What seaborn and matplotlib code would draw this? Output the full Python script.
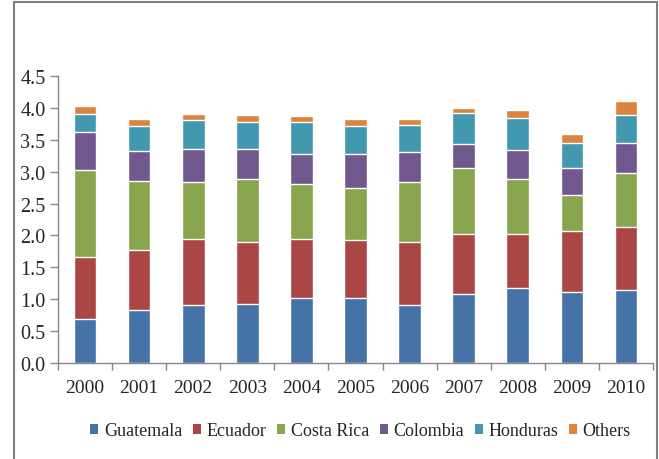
import numpy as np
import matplotlib
matplotlib.use("Agg")
import matplotlib.pyplot as plt
import seaborn as sns
from matplotlib.patches import Rectangle, Patch
from matplotlib.ticker import FormatStrFormatter, FixedLocator

years = ["2000", "2001", "2002", "2003", "2004", "2005", "2006", "2007", "2008", "2009", "2010"]
countries = ["Guatemala", "Ecuador", "Costa Rica", "Colombia", "Honduras", "Others"]

# values (segment heights)
guatemala = [0.69, 0.83, 0.92, 0.93, 1.02, 1.02, 0.91, 1.09, 1.18, 1.12, 1.15]
ecuador = [0.97, 0.95, 1.02, 0.97, 0.92, 0.91, 0.99, 0.93, 0.84, 0.95, 0.98]
costa_rica = [1.36, 1.08, 0.90, 0.98, 0.86, 0.82, 0.93, 1.03, 0.87, 0.56, 0.85]
colombia = [0.60, 0.46, 0.51, 0.47, 0.47, 0.52, 0.47, 0.38, 0.45, 0.42, 0.46]
honduras = [0.28, 0.39, 0.45, 0.43, 0.51, 0.44, 0.43, 0.48, 0.50, 0.39, 0.44]
others = [0.12, 0.12, 0.10, 0.10, 0.09, 0.11, 0.10, 0.09, 0.12, 0.15, 0.23]

colors = ["#4572A7", "#AA4643", "#89A54E", "#71588F", "#4198AF", "#DB843D"]

series = [guatemala, ecuador, costa_rica, colombia, honduras, others]
cum = np.cumsum(np.array(series), axis=0)

sns.set_style("white")
plt.rcParams["font.family"] = ["Liberation Serif", "DejaVu Serif"]

fig = plt.figure(figsize=(6.59, 4.60), dpi=100)
ax = fig.add_axes([58 / 659, 1 - 364.3 / 460, (653 - 58) / 659, (364.3 - 76.7) / 460])

# draw the totals from top layer down so each layer covers the one above
for i in range(len(series) - 1, -1, -1):
    sns.barplot(x=years, y=cum[i], color=colors[i], width=0.42, saturation=1, ax=ax)

ax.set_ylim(0, 4.5)
ax.set_xlim(-0.5, 10.5)
ax.set_yticks(np.arange(0, 4.51, 0.5))
ax.yaxis.set_major_formatter(FormatStrFormatter("%.1f"))
ax.set_xlabel("")
ax.set_ylabel("")

for s in ["top", "right"]:
    ax.spines[s].set_visible(False)
for s in ["left", "bottom"]:
    ax.spines[s].set_color("#868686")
    ax.spines[s].set_linewidth(1)

ax.tick_params(axis="y", which="major", length=6, width=1, color="#868686", labelsize=14.5, pad=3, left=True)
ax.tick_params(axis="x", which="major", length=0, labelsize=14, pad=11)
ax.xaxis.set_minor_locator(FixedLocator(np.arange(-0.5, 11, 1)))
ax.tick_params(axis="x", which="minor", length=5, width=1, color="#868686", bottom=True)

handles = [Patch(facecolor=c, edgecolor="none") for c in colors]
fig.legend(handles, countries, loc="center", bbox_to_anchor=(0.547, 1 - 432 / 460), ncol=6,
           frameon=False, fontsize=13, handlelength=0.45, handleheight=0.45,
           handletextpad=0.3, columnspacing=0.6, borderaxespad=0)

# outer chart border
fig.patches.append(Rectangle((14 / 659, -0.01), (657 - 14) / 659, 1.01 - 3 / 460,
                             transform=fig.transFigure, fill=False,
                             edgecolor="#7f7f7f", linewidth=1.5))

fig.savefig("out.png", dpi=100)
